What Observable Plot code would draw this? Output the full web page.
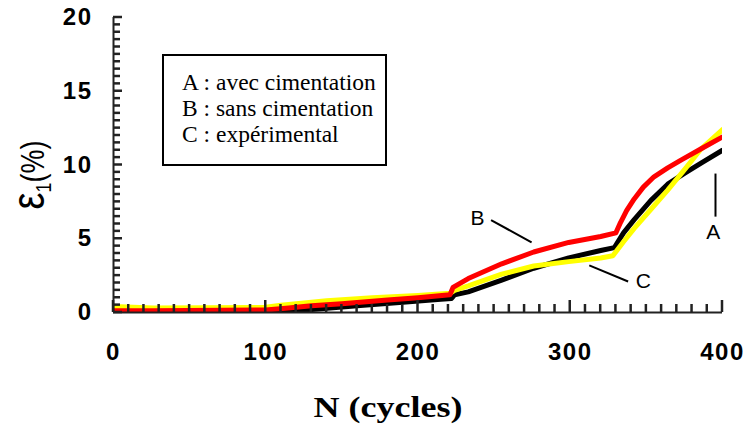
<!DOCTYPE html>
<html><head><meta charset="utf-8">
<script src="https://cdn.jsdelivr.net/npm/d3@7"></script>
<script src="https://cdn.jsdelivr.net/npm/@observablehq/plot@0.6"></script>
<style>
body{margin:0;background:#fff;}
#chart{position:relative;width:747px;height:424px;}
</style></head><body><div id="chart"></div>
<script>
// Series A : avec cimentation (black)
const nA   = [0, 110, 130, 160, 190, 215, 222, 224, 233, 255, 276, 299, 320, 329, 335, 342, 353, 364, 376, 387, 400];
const epsA = [0.05, 0.05, 0.2, 0.45, 0.7, 0.9, 0.95, 1.2, 1.4, 2.2, 3.0, 3.7, 4.2, 4.4, 5.4, 6.3, 7.6, 8.7, 9.5, 10.2, 11.0];
// Series B : sans cimentation (red)
const nB   = [0, 26, 100, 115, 130, 150, 180, 200, 221, 223, 233, 255, 276, 299, 320, 330, 333, 337, 342, 348, 355, 364, 373, 386, 400];
const epsB = [0.12, 0.12, 0.17, 0.3, 0.45, 0.6, 0.85, 1.0, 1.2, 1.7, 2.3, 3.3, 4.1, 4.75, 5.15, 5.4, 6.1, 6.9, 7.7, 8.5, 9.2, 9.8, 10.35, 11.1, 11.9];
// Series C : expérimental (yellow)
const nC   = [0, 26, 100, 110, 140, 170, 200, 221, 224, 233, 255, 276, 299, 320, 328, 335, 342, 353, 364, 376, 386, 400];
const epsC = [0.4, 0.3, 0.35, 0.5, 0.8, 1.0, 1.15, 1.3, 1.5, 1.8, 2.6, 3.15, 3.45, 3.7, 3.85, 4.8, 5.7, 7.0, 8.3, 9.8, 11.1, 12.4];

const xTicks = [0, 100, 200, 300, 400];
const yTicks = [0, 5, 10, 15, 20];
const xMinorTicks = d3.range(0, 401, 10);
const yMinorTicks = d3.range(0, 20.01, 0.5);

const legendLines = ["A : avec cimentation", "B : sans cimentation", "C : expérimental"];
const xTitle = "N (cycles)";

// curve annotations
const annLabels = ["A", "B", "C"];
const annLabelN = [394, 239, 348];
const annLabelE = [5.45, 6.4, 2.15];
const annN1 = [395.4, 248, 312.5];
const annE1 = [9.42, 6.27, 3.19];
const annN2 = [395.4, 274.6, 338];
const annE2 = [6.5, 4.75, 2.1];

const toRows = (ns, es) => ns.map((n, i) => ({n, e: es[i]}));
const rowsA = toRows(nA, epsA), rowsB = toRows(nB, epsB), rowsC = toRows(nC, epsC);
const ann = annLabels.map((t, i) => ({t, lx: annLabelN[i], ly: annLabelE[i], x1: annN1[i], y1: annE1[i], x2: annN2[i], y2: annE2[i]}));

const axisColor = "#222";
const tickFont = {fontSize: 24, fontWeight: "bold", fontFamily: "Liberation Sans, Arial, sans-serif"};
const W = 747, H = 424, ML = 113, MR = 25, MT = 17, MB = 112;

const svg = Plot.plot({
  width: W, height: H,
  marginLeft: ML, marginRight: MR, marginTop: MT, marginBottom: MB,
  x: {domain: [0, 400]},
  y: {domain: [0, 20]},
  marks: [
    Plot.axisX({ticks: xTicks, tickSize: 0, tickPadding: 30, label: null, ...tickFont}),
    Plot.axisY({ticks: yTicks, tickSize: 0, tickPadding: 21, label: null, ...tickFont}),
    Plot.line(rowsA, {x: "n", y: "e", stroke: "#000000", strokeWidth: 5, clip: true}),
    Plot.line(rowsC, {x: "n", y: "e", stroke: "#ffff00", strokeWidth: 5, clip: true}),
    Plot.line(rowsB, {x: "n", y: "e", stroke: "#ff0000", strokeWidth: 5, clip: true}),
    Plot.ruleY([0], {stroke: axisColor, strokeWidth: 2}),
    Plot.ruleX([0], {stroke: axisColor, strokeWidth: 2}),
    Plot.link(ann, {x1: "x1", y1: "y1", x2: "x2", y2: "y2", stroke: "#000", strokeWidth: 2}),
    Plot.text(ann, {x: "lx", y: "ly", text: "t", fontSize: 21, fontFamily: "Liberation Sans, Arial, sans-serif", fill: "#000"})
  ]
});

const s = d3.select(svg);
s.selectAll('g[aria-label="x-axis tick label"] text, g[aria-label="y-axis tick label"] text').style("letter-spacing", "1.5px");

// y-axis title
const yl = s.append("text")
  .attr("transform", "translate(44,175) scale(1.2,1) rotate(-90)")
  .attr("text-anchor", "middle")
  .attr("font-family", "Liberation Sans, Arial, sans-serif")
  .attr("fill", "#000");
yl.append("tspan").attr("font-size", 38).text("ε");
yl.append("tspan").attr("font-size", 18).attr("dy", 6).text("1");
yl.append("tspan").attr("font-size", 27).attr("dy", -6).text("(%)");

// x-axis title
s.append("text")
  .attr("transform", "translate(388,417) scale(1.2,1)")
  .attr("text-anchor", "middle")
  .attr("font-family", "Liberation Serif, Times New Roman, serif")
  .attr("font-weight", "bold")
  .attr("font-size", 30)
  .attr("fill", "#000")
  .text(xTitle);

// legend box
const lg = s.append("g");
lg.append("rect").attr("x", 163).attr("y", 55).attr("width", 223).attr("height", 110)
  .attr("fill", "#fff").attr("stroke", "#000").attr("stroke-width", 2);
legendLines.forEach((t, i) => {
  lg.append("text").attr("x", 182).attr("y", 90 + i * 26)
    .attr("text-anchor", "start")
    .attr("font-family", "Liberation Serif, Times New Roman, serif")
    .attr("font-size", 23.5).attr("fill", "#000").text(t);
});

// inward minor/major ticks, positioned through Plot's own scales (drawn last)
const sx = svg.scale("x"), sy = svg.scale("y");
const y0 = sy.apply(0), x0 = sx.apply(0);
const tg = s.append("g").attr("stroke", axisColor).attr("stroke-width", 2.5).attr("fill", "none");
xMinorTicks.forEach(v => {
  const px = sx.apply(v), len = xTicks.includes(v) ? 12 : 8;
  tg.append("line").attr("x1", px).attr("x2", px).attr("y1", y0).attr("y2", y0 - len);
});
yMinorTicks.forEach(v => {
  const py = sy.apply(v), len = yTicks.includes(v) ? 9 : 7;
  tg.append("line").attr("x1", x0).attr("x2", x0 + len).attr("y1", py).attr("y2", py);
});

document.getElementById("chart").appendChild(svg);
</script>
</body></html>
